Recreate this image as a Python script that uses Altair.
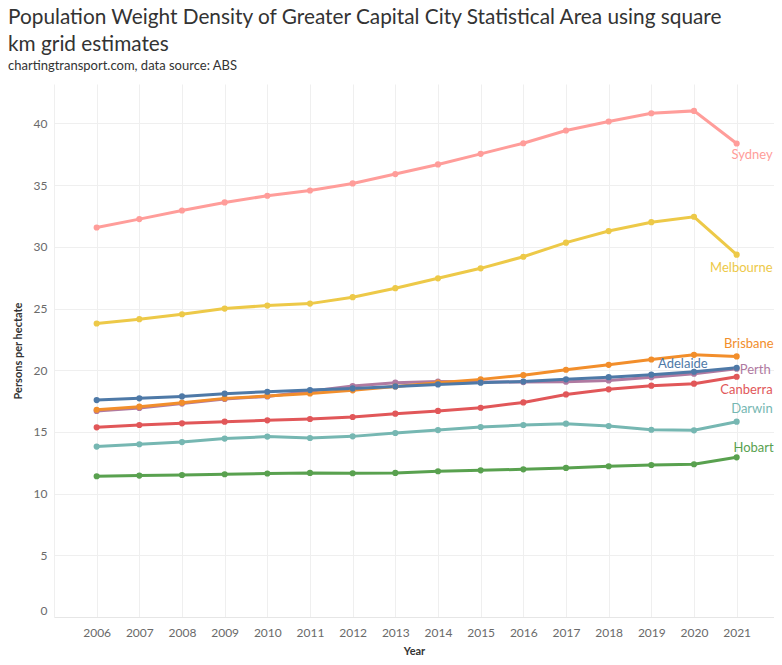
import altair as alt
import pandas as pd

years = list(range(2006, 2022))
cities = ["Hobart", "Darwin", "Canberra", "Perth", "Brisbane", "Adelaide", "Melbourne", "Sydney"]
colors = ["#59a14f", "#76b7b2", "#e15759", "#b07aa1", "#f28e2b", "#4e79a7", "#edc948", "#ff9d9a"]

sydney = [31.57, 32.25, 32.95, 33.6, 34.14, 34.57, 35.14, 35.9, 36.68, 37.54, 38.4, 39.43, 40.16, 40.83, 41.02, 38.38]
melbourne = [23.79, 24.14, 24.54, 25.0, 25.24, 25.4, 25.92, 26.65, 27.45, 28.26, 29.2, 30.34, 31.28, 32.0, 32.44, 29.37]
brisbane = [16.8, 17.05, 17.37, 17.72, 17.91, 18.12, 18.37, 18.69, 18.99, 19.26, 19.6, 20.04, 20.44, 20.87, 21.25, 21.12]
adelaide = [17.58, 17.72, 17.88, 18.1, 18.26, 18.39, 18.53, 18.69, 18.85, 18.99, 19.09, 19.26, 19.44, 19.64, 19.88, 20.2]
perth = [16.7, 16.94, 17.3, 17.67, 17.88, 18.3, 18.72, 18.99, 19.09, 19.04, 19.04, 19.07, 19.17, 19.44, 19.72, 20.12]
canberra = [15.37, 15.56, 15.7, 15.83, 15.94, 16.05, 16.21, 16.48, 16.7, 16.96, 17.39, 18.04, 18.45, 18.75, 18.91, 19.47]
darwin = [13.81, 14.0, 14.18, 14.46, 14.62, 14.51, 14.64, 14.91, 15.15, 15.4, 15.56, 15.67, 15.48, 15.18, 15.13, 15.83]
hobart = [11.41, 11.46, 11.51, 11.57, 11.63, 11.68, 11.65, 11.68, 11.81, 11.89, 11.97, 12.08, 12.22, 12.32, 12.38, 12.94]

series = {
    "Hobart": hobart, "Darwin": darwin, "Canberra": canberra, "Perth": perth,
    "Brisbane": brisbane, "Adelaide": adelaide, "Melbourne": melbourne, "Sydney": sydney,
}

# label offsets (dx, dy) relative to the 2021 point
label_offsets = {
    "Sydney": (36, 12), "Melbourne": (36, 13), "Brisbane": (37, -12), "Adelaide": (-29, -4),
    "Perth": (34, 1), "Canberra": (36, 13), "Darwin": (36, -13), "Hobart": (37, -9),
}

rows = []
for c in cities:
    for y, v in zip(years, series[c]):
        rows.append({"City": c, "Year": y, "Value": v})
df = pd.DataFrame(rows)

FONT = "Lato"

x_enc = alt.X("Year:Q", scale=alt.Scale(domain=[2005, 2021.875], nice=False, zero=False),
              axis=alt.Axis(values=years, format="d", title="Year", grid=True, gridColor="#efefef",
                            ticks=False, domain=True, domainColor="#e6e6e6", labelPadding=10,
                            labelFontSize=12, labelColor="#6a6a6a", labelFont=FONT,
                            titleFont=FONT, titleFontSize=11, titleFontWeight="bold", titleColor="#333333",
                            titleY=34, titleBaseline="middle"))
y_enc = alt.Y("Value:Q", scale=alt.Scale(domain=[0, 43.2], nice=False),
              axis=alt.Axis(values=[0, 5, 10, 15, 20, 25, 30, 35, 40], title="Persons per hectate",
                            grid=True, gridColor="#efefef", ticks=False, domain=True, domainColor="#efefef",
                            labelPadding=7, labelFontSize=12, labelColor="#6a6a6a", labelFont=FONT,
                            labelFlush=True,
                            titleFont=FONT, titleFontSize=11, titleFontWeight="bold", titleColor="#333333",
                            titleX=-36, titleBaseline="middle"))
color_enc = alt.Color("City:N", scale=alt.Scale(domain=cities, range=colors), legend=None)

base = alt.Chart(df)
lines = base.mark_line(strokeWidth=3).encode(x=x_enc, y=y_enc, color=color_enc, detail="City:N")
points = base.mark_circle(size=38, opacity=1).encode(x=x_enc, y=y_enc, color=color_enc)

layers = [lines, points]
last = df[df["Year"] == 2021]
for c, col in zip(cities, colors):
    dx, dy = label_offsets[c]
    t = alt.Chart(last).transform_filter(alt.datum.City == c).mark_text(
        align="right", baseline="middle", dx=dx, dy=dy, fontSize=13, font=FONT, color=col
    ).encode(x="Year:Q", y="Value:Q", text="City:N")
    layers.append(t)

chart = alt.layer(*layers).properties(
    width=720, height=533,
    autosize=alt.AutoSizeParams(type="none"),
    padding={"left": 46, "top": 76, "right": 0, "bottom": 40},
    title=alt.TitleParams(
        text=["Population Weight Density of Greater Capital City Statistical Area using square",
              "km grid estimates"],
        subtitle="chartingtransport.com, data source: ABS",
        anchor="start", frame="group", dx=-46, offset=10,
        font=FONT, fontSize=20.8, fontWeight="normal", color="#333333", lineHeight=27,
        subtitleFont=FONT, subtitleFontSize=13, subtitleColor="#333333", subtitlePadding=4,
    ),
).configure_view(stroke=None)

chart.save("out.html", embed_options={"renderer": "svg", "actions": False})
